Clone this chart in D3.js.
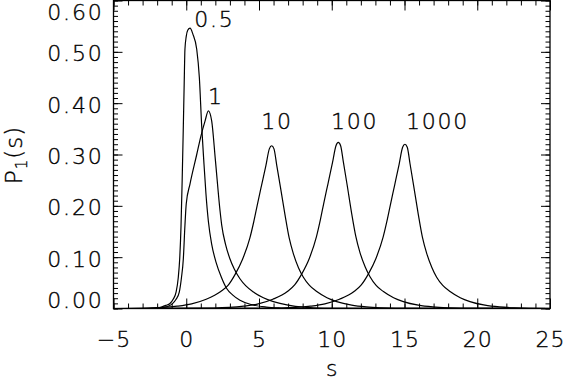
<!DOCTYPE html>
<html>
<head>
<meta charset="utf-8">
<script src="https://cdn.jsdelivr.net/npm/d3@7"></script>
<style>
body { margin: 0; background: #fff; }
text { font-family: 'DejaVu Sans', sans-serif; font-weight: 200; fill: #000; stroke: #000; stroke-width: 0.35; }
</style>
</head>
<body>
<div id="chart"></div>
<script>
// values: s and P1(s) for each curve
const curveNames = ['0.5', '1', '10', '100', '1000'];

const sHalf = [-5, -2.5, -2.0, -1.7, -1.4, -1.12, -0.9, -0.7, -0.55, -0.45, -0.36, -0.28, -0.2, -0.14, -0.09, 0.0, 0.1, 0.26, 0.45, 0.72, 0.9, 1.06, 1.2, 1.35, 1.52, 1.75, 2.05, 2.4, 2.78, 3.2, 3.69, 4.5, 5.5, 6.5, 8, 25];
const pHalf = [0, 0, 0.001, 0.003, 0.006, 0.0097, 0.018, 0.032, 0.06, 0.097, 0.16, 0.25, 0.356, 0.44, 0.505, 0.53, 0.542, 0.546, 0.535, 0.505, 0.45, 0.356, 0.29, 0.225, 0.17, 0.125, 0.09, 0.062, 0.039, 0.026, 0.016, 0.0074, 0.0028, 0.001, 0, 0];

const sOne = [-5, -2.5, -1.7, -1.2, -0.93, -0.7, -0.48, -0.33, -0.2, -0.09, 0.0, 0.26, 0.72, 1.0, 1.29, 1.52, 1.75, 2.0, 2.32, 2.44, 2.7, 3.0, 3.3, 3.69, 4.1, 4.62, 5.3, 5.99, 7.0, 8.05, 9.5, 25];
const pOne = [0, 0, 0.002, 0.005, 0.01, 0.018, 0.032, 0.06, 0.097, 0.162, 0.204, 0.243, 0.30, 0.335, 0.365, 0.385, 0.365, 0.29, 0.191, 0.162, 0.125, 0.097, 0.077, 0.058, 0.044, 0.032, 0.021, 0.0135, 0.0065, 0.0025, 0.0007, 0];

const sTen = [-5, -2.63, -1.63, -0.63, 0.37, 1.37, 2.37, 2.87, 3.37, 3.87, 4.37, 4.64, 4.87, 5.16, 5.47, 5.71, 5.87, 6.03, 6.22, 6.47, 6.79, 7.07, 7.37, 7.72, 8.05, 8.47, 8.97, 9.67, 10.34, 11.37, 12.37, 13.37, 14.37, 25];
const pTen = [0, 0.001, 0.002, 0.0045, 0.009, 0.018, 0.033, 0.045, 0.067, 0.096, 0.137, 0.169, 0.2, 0.238, 0.278, 0.311, 0.317, 0.311, 0.279, 0.237, 0.182, 0.138, 0.106, 0.079, 0.061, 0.045, 0.033, 0.021, 0.0135, 0.0065, 0.003, 0.0012, 0.0004, 0];

const sHundred = [-5, 1.95, 2.95, 3.95, 4.95, 5.95, 6.95, 7.45, 7.95, 8.45, 8.95, 9.22, 9.45, 9.74, 10.05, 10.29, 10.45, 10.61, 10.8, 11.05, 11.37, 11.65, 11.95, 12.3, 12.63, 13.05, 13.55, 14.25, 14.92, 15.95, 16.95, 17.95, 18.95, 25];
const pHundred = [0, 0.001, 0.002, 0.0045, 0.009, 0.018, 0.033, 0.046, 0.068, 0.097, 0.14, 0.173, 0.205, 0.243, 0.284, 0.317, 0.3235, 0.317, 0.285, 0.242, 0.185, 0.141, 0.108, 0.081, 0.062, 0.045, 0.033, 0.021, 0.0135, 0.0065, 0.003, 0.0012, 0.0004, 0];

const sThousand = [-5, 6.53, 7.53, 8.53, 9.53, 10.53, 11.53, 12.03, 12.53, 13.03, 13.53, 13.8, 14.03, 14.32, 14.63, 14.87, 15.03, 15.19, 15.38, 15.63, 15.95, 16.23, 16.53, 16.88, 17.21, 17.63, 18.13, 18.83, 19.5, 20.53, 21.53, 22.53, 23.53, 25];
const pThousand = [0, 0.001, 0.002, 0.0045, 0.009, 0.018, 0.033, 0.046, 0.068, 0.097, 0.139, 0.171, 0.202, 0.240, 0.281, 0.314, 0.320, 0.314, 0.282, 0.239, 0.183, 0.139, 0.107, 0.080, 0.061, 0.045, 0.033, 0.021, 0.0135, 0.0065, 0.003, 0.0012, 0.0004, 0.0001];

// where each curve's label sits, in data units (left edge, baseline)
const labelS = [0.55, 1.5, 5.15, 9.95, 15.1];
const labelP = [0.549, 0.399, 0.350, 0.350, 0.350];

const xMajor = [-5, 0, 5, 10, 15, 20, 25];
const xTickLabels = ['\u22125', '0', '5', '10', '15', '20', '25'];
const yMajor = [0, 0.1, 0.2, 0.3, 0.4, 0.5, 0.6];
const yTickLabels = ['0.00', '0.10', '0.20', '0.30', '0.40', '0.50', '0.60'];

const width = 565;
const height = 381;

const svg = d3.select('#chart')
    .append('svg')
        .attr('width', width)
        .attr('height', height);

const x = d3.scaleLinear().domain([-5, 25]).range([113.5, 550]);
const y = d3.scaleLinear().domain([0, 0.6]).range([308.5, 0.5]);

// clip curves to the plot box
svg.append('clipPath').attr('id', 'box')
    .append('rect')
        .attr('x', x(-5)).attr('y', y(0.6))
        .attr('width', x(25) - x(-5)).attr('height', y(0) - y(0.6));

// ticks point inward on all four sides, IDL style
function tickAxis(axis, transform) {
    const g = svg.append('g')
        .attr('transform', transform)
        .call(axis);
    g.select('.domain').remove();
    g.selectAll('line').attr('stroke', '#000').attr('stroke-width', 1);
    g.selectAll('text').remove();
}

const xMinor = d3.range(-5, 25.001, 1);
const yMinor = d3.range(0, 0.6001, 0.01);

tickAxis(d3.axisBottom(x).tickValues(xMinor).tickSize(-5), `translate(0,${y(0)})`);
tickAxis(d3.axisBottom(x).tickValues(xMajor).tickSize(-10), `translate(0,${y(0)})`);
tickAxis(d3.axisTop(x).tickValues(xMinor).tickSize(-5), `translate(0,${y(0.6)})`);
tickAxis(d3.axisTop(x).tickValues(xMajor).tickSize(-10), `translate(0,${y(0.6)})`);
tickAxis(d3.axisLeft(y).tickValues(yMinor).tickSize(-4.5), `translate(${x(-5)},0)`);
tickAxis(d3.axisLeft(y).tickValues(yMajor).tickSize(-9), `translate(${x(-5)},0)`);
tickAxis(d3.axisRight(y).tickValues(yMinor).tickSize(-4.5), `translate(${x(25)},0)`);
tickAxis(d3.axisRight(y).tickValues(yMajor).tickSize(-9), `translate(${x(25)},0)`);

// frame
svg.append('rect')
    .attr('x', x(-5)).attr('y', y(0.6))
    .attr('width', x(25) - x(-5)).attr('height', y(0) - y(0.6))
    .attr('fill', 'none')
    .attr('stroke', '#000')
    .attr('stroke-width', 1.3);

// curves
const series = [
    d3.zip(sHalf, pHalf),
    d3.zip(sOne, pOne),
    d3.zip(sTen, pTen),
    d3.zip(sHundred, pHundred),
    d3.zip(sThousand, pThousand)
];

const line = d3.line()
    .x(d => x(d[0]))
    .y(d => y(d[1]))
    .curve(d3.curveMonotoneX);

svg.append('g')
    .attr('clip-path', 'url(#box)')
    .selectAll('path')
    .data(series)
    .enter()
    .append('path')
        .attr('d', line)
        .attr('fill', 'none')
        .attr('stroke', '#000')
        .attr('stroke-width', 1.2);

// curve labels
svg.selectAll('.curve-label')
    .data(curveNames)
    .enter()
    .append('text')
        .attr('class', 'curve-label')
        .attr('x', (d, i) => x(labelS[i]))
        .attr('y', (d, i) => y(labelP[i]))
        .attr('font-size', 22)
        .attr('letter-spacing', 1.8)
        .text(d => d);

// x tick labels
svg.selectAll('.x-label')
    .data(xMajor)
    .enter()
    .append('text')
        .attr('class', 'x-label')
        .attr('x', d => x(d) + 0.6)
        .attr('y', 347)
        .attr('text-anchor', 'middle')
        .attr('font-size', 22)
        .attr('letter-spacing', 1.2)
        .text((d, i) => xTickLabels[i]);

// y tick labels (IDL keeps the end labels inside the window)
svg.selectAll('.y-label')
    .data(yMajor)
    .enter()
    .append('text')
        .attr('class', 'y-label')
        .attr('x', 103.5)
        .attr('y', d => Math.min(Math.max(y(d) + 1.5, 11.5), 300) + 8)
        .attr('text-anchor', 'end')
        .attr('font-size', 22)
        .attr('letter-spacing', 1.8)
        .text((d, i) => yTickLabels[i]);

// axis titles
svg.append('text')
    .attr('x', (x(-5) + x(25)) / 2)
    .attr('y', 376)
    .attr('text-anchor', 'middle')
    .attr('font-size', 22)
    .text('s');

const yTitle = svg.append('text')
    .attr('transform', 'translate(22,155) rotate(-90)')
    .attr('text-anchor', 'middle')
    .attr('font-size', 23)
    .attr('letter-spacing', 1);
yTitle.append('tspan').text('P');
yTitle.append('tspan').attr('font-size', 15).attr('dy', 5).text('1');
yTitle.append('tspan').attr('dy', -5).text('(s)');
</script>
</body>
</html>
